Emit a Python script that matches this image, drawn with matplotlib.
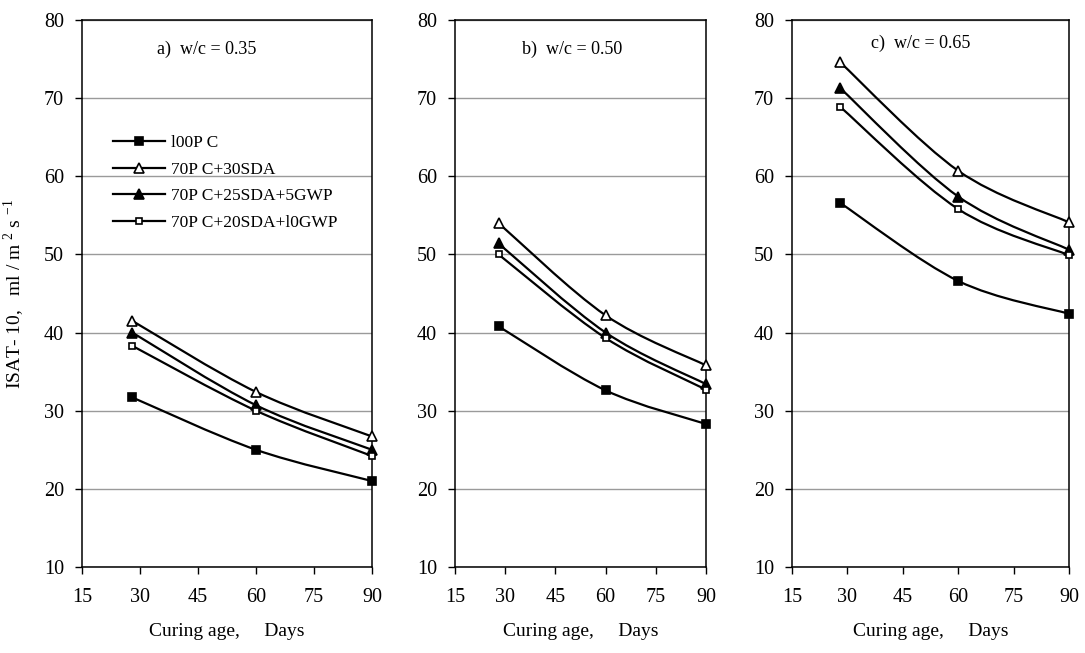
import numpy as np
import matplotlib
matplotlib.use("Agg")
import matplotlib.pyplot as plt
from matplotlib.path import Path
from matplotlib.patches import PathPatch
from matplotlib.lines import Line2D

plt.rcParams['font.family'] = ['Liberation Serif', 'DejaVu Serif']
plt.rcParams['mathtext.fontset'] = 'custom'
plt.rcParams['mathtext.rm'] = 'Liberation Serif'

# curing ages (days)
days = [28, 60, 90]

# ISAT-10 values, one list per mix, per w/c panel
labels = ['l00P C', '70P C+30SDA', '70P C+25SDA+5GWP', '70P C+20SDA+l0GWP']

wc035 = [[31.7, 25.0, 21.0],
         [41.5, 32.4, 26.7],
         [40.0, 30.7, 25.0],
         [38.3, 30.0, 24.2]]
wc050 = [[40.8, 32.6, 28.3],
         [54.0, 42.2, 35.8],
         [51.4, 40.0, 33.4],
         [50.0, 39.3, 32.7]]
wc065 = [[56.6, 46.6, 42.4],
         [74.6, 60.7, 54.1],
         [71.3, 57.4, 50.6],
         [68.9, 55.8, 49.9]]

panel_titles = ['a)  w/c = 0.35', 'b)  w/c = 0.50', 'c)  w/c = 0.65']

# marker styles: (marker, facecolor, size)
styles = [('s', 'black', 5.5), ('^', 'white', 6.5), ('^', 'black', 6.5), ('s', 'white', 5)]


def smooth(x, y):
    # excel-like smoothed line: cubic bezier through the points
    pts = np.column_stack([x, y]).astype(float)
    n = len(pts)
    verts = [pts[0]]
    codes = [Path.MOVETO]
    for i in range(n - 1):
        p0 = pts[max(i - 1, 0)]
        p1 = pts[i]
        p2 = pts[i + 1]
        p3 = pts[min(i + 2, n - 1)]
        verts += [p1 + (p2 - p0) / 6, p2 - (p3 - p1) / 6, p2]
        codes += [Path.CURVE4] * 3
    return Path(verts, codes)


fig = plt.figure(figsize=(10.85, 6.53), dpi=100)

# axes rectangles in figure fraction (left, bottom, width, height)
rects = [(0.0756, 0.1317, 0.2673, 0.8377),
         (0.4194, 0.1317, 0.2313, 0.8377),
         (0.7300, 0.1317, 0.2553, 0.8377)]
title_pos = [(0.43, 0.946), (0.465, 0.946), (0.466, 0.958)]

for k, data in enumerate([wc035, wc050, wc065]):
    ax = fig.add_axes(rects[k])
    for s, vals in enumerate(data):
        ax.add_patch(PathPatch(smooth(days, vals), fill=False, ec='black', lw=1.6, zorder=3))
        m, fc, ms = styles[s]
        ax.plot(days, vals, ls='none', marker=m, mfc=fc, mec='black', mew=1.2, ms=ms,
                zorder=4, clip_on=False)
    ax.set_xlim(15, 90)
    ax.set_ylim(10, 80)
    ax.set_xticks(range(15, 91, 15))
    ax.set_yticks(range(10, 81, 10))
    ax.yaxis.grid(True, color='#9a9a9a', lw=1)
    ax.set_axisbelow(True)
    ax.tick_params(direction='out', length=5, width=1, labelsize=14.5, pad=8)
    ax.tick_params(axis='x', pad=10)
    for sp in ax.spines.values():
        sp.set_linewidth(1.1)
        sp.set_color('black')
    ax.set_xlabel('Curing age,     Days', fontsize=14, labelpad=12)
    ax.text(title_pos[k][0], title_pos[k][1], panel_titles[k], transform=ax.transAxes,
            ha='center', va='center', fontsize=13)
    if k == 0:
        ax.set_ylabel('ISAT- 10,   ml / m $^{2}$ s $^{-1}$', fontsize=14, labelpad=12)
        handles = []
        for s in range(4):
            m, fc, ms = styles[s]
            handles.append(Line2D([], [], color='black', lw=1.6, marker=m, mfc=fc,
                                  mec='black', mew=1.2, ms=ms))
        ax.legend(handles, labels, loc='upper left', bbox_to_anchor=(0.106, 0.79),
                  frameon=False, fontsize=12.5, handlelength=3, handletextpad=0.35,
                  labelspacing=0.6, borderpad=0, borderaxespad=0, numpoints=1)

fig.savefig('out.png', dpi=100)
